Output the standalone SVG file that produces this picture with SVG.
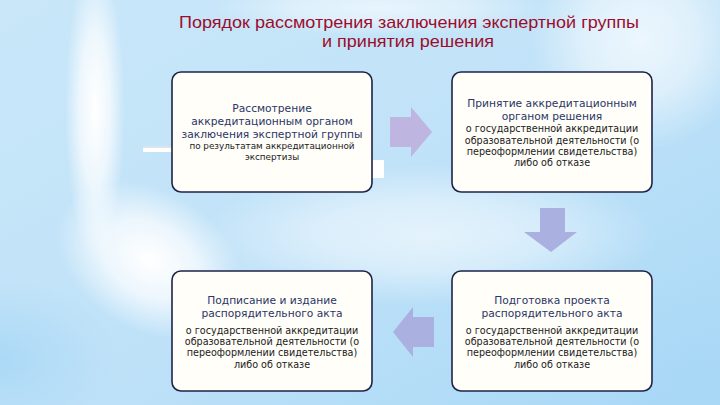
<svg xmlns="http://www.w3.org/2000/svg" width="720" height="405" viewBox="0 0 720 405">
<defs>
<linearGradient id="bg" x1="0" y1="0" x2="1" y2="1">
<stop offset="0" stop-color="#c9e7f9"/>
<stop offset="0.5" stop-color="#c0e2f8"/>
<stop offset="1" stop-color="#a8d8f6"/>
</linearGradient>
<radialGradient id="glow">
<stop offset="0" stop-color="#ffffff" stop-opacity="1"/>
<stop offset="0.5" stop-color="#ffffff" stop-opacity="0.7"/>
<stop offset="1" stop-color="#ffffff" stop-opacity="0"/>
</radialGradient>
<radialGradient id="blue">
<stop offset="0" stop-color="#a9d8f6" stop-opacity="0.9"/>
<stop offset="1" stop-color="#a9d8f6" stop-opacity="0"/>
</radialGradient>
<style>
.box{fill:#fffef8;stroke:#1e2347;stroke-width:1.6}
.h{font-family:"DejaVu Sans",sans-serif;font-size:10.7px;fill:#2b3566;text-anchor:middle}
.b{font-family:"DejaVu Sans",sans-serif;font-size:9.6px;fill:#1a1a1a;text-anchor:middle}
.b1{font-family:"DejaVu Sans",sans-serif;font-size:8.8px;fill:#1a1a1a;text-anchor:middle}
.t{font-family:"Liberation Sans",Arial,sans-serif;font-size:17px;fill:#9b0d2b;text-anchor:middle}
.ar1{fill:#beb5e0}
.ar2{fill:#aab0e0}
</style>
</defs>
<rect width="720" height="405" fill="url(#bg)"/>
<ellipse cx="0" cy="360" rx="120" ry="80" fill="url(#blue)"/>
<ellipse cx="700" cy="380" rx="120" ry="90" fill="url(#blue)"/>
<ellipse cx="95" cy="110" rx="30" ry="150" fill="url(#glow)"/>
<ellipse cx="150" cy="260" rx="100" ry="70" fill="url(#glow)" transform="rotate(30 150 260)"/>
<ellipse cx="640" cy="40" rx="110" ry="110" fill="url(#glow)" opacity="0.7"/>
<ellipse cx="430" cy="235" rx="230" ry="70" fill="url(#glow)" opacity="0.6"/>
<ellipse cx="380" cy="8" rx="170" ry="28" fill="url(#glow)" opacity="0.6"/>
<rect x="143" y="148" width="30" height="4" fill="#ffffff"/>
<rect x="143" y="146" width="30" height="2" fill="#dfe4ea"/>
<rect x="372" y="160" width="12" height="18" fill="#ffffff"/>
<text class="t" x="409" y="28" textLength="460" lengthAdjust="spacingAndGlyphs">Порядок рассмотрения заключения экспертной группы</text>
<text class="t" x="408" y="47" textLength="172" lengthAdjust="spacingAndGlyphs">и принятия решения</text>
<g id="connectors">
<polygon class="ar1" points="390,117 411,117 411,107 432,132 411,157 411,147 390,147"/>
<polygon class="ar2" points="540,208 565,208 565,232 577,232 551,252 524,232 540,232"/>
<polygon class="ar2" points="434,317 413,317 413,307 393,332 413,357 413,347 434,347"/>
</g>
<g id="node1">
<rect class="box" x="172" y="72" width="200" height="120" rx="9"/>
<text class="h" x="272" y="112">Рассмотрение</text>
<text class="h" x="272" y="125">аккредитационным органом</text>
<text class="h" x="272" y="138">заключения экспертной группы</text>
<text class="b1" x="272" y="149">по результатам аккредитационной</text>
<text class="b1" x="272" y="160">экспертизы</text>
</g>
<g id="node2">
<rect class="box" x="452" y="72" width="200" height="120" rx="9"/>
<text class="h" x="552" y="107">Принятие аккредитационным</text>
<text class="h" x="552" y="120">органом решения</text>
<text class="b" x="552" y="132">о государственной аккредитации</text>
<text class="b" x="552" y="144">образовательной деятельности (о</text>
<text class="b" x="552" y="155">переоформлении свидетельства)</text>
<text class="b" x="552" y="166">либо об  отказе</text>
</g>
<g id="node3">
<rect class="box" x="172" y="271" width="200" height="120" rx="9"/>
<text class="h" x="272" y="304">Подписание и издание</text>
<text class="h" x="272" y="317">распорядительного акта</text>
<text class="b" x="272" y="334">о государственной аккредитации</text>
<text class="b" x="272" y="345">образовательной деятельности (о</text>
<text class="b" x="272" y="356">переоформлении свидетельства)</text>
<text class="b" x="272" y="368">либо об  отказе</text>
</g>
<g id="node4">
<rect class="box" x="452" y="271" width="200" height="120" rx="9"/>
<text class="h" x="552" y="304">Подготовка проекта</text>
<text class="h" x="552" y="317">распорядительного акта</text>
<text class="b" x="552" y="334">о государственной аккредитации</text>
<text class="b" x="552" y="345">образовательной деятельности (о</text>
<text class="b" x="552" y="356">переоформлении свидетельства)</text>
<text class="b" x="552" y="368">либо об  отказе</text>
</g>
</svg>
